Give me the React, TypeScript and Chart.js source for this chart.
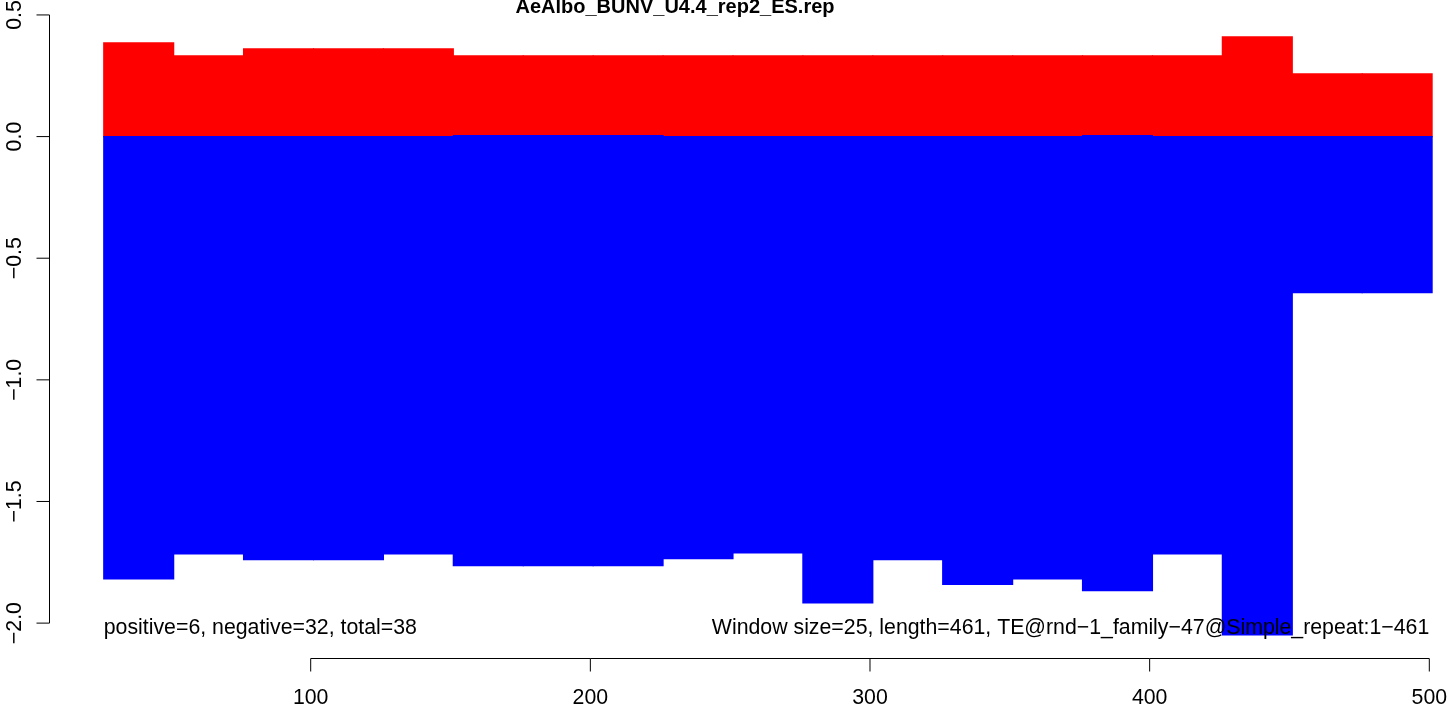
import React, { useEffect, useRef } from "react";
import { Chart, registerables } from "chart.js";

Chart.register(...registerables);

const chartTitle = "AeAlbo_BUNV_U4.4_rep2_ES.rep";
const windowSize = 25;
const windowStarts = [26, 51, 76, 101, 126, 151, 176, 201, 226, 251, 276, 301, 326, 351, 376, 401, 426, 451, 476];
const positiveValues = [0.385, 0.332, 0.361, 0.361, 0.361, 0.332, 0.332, 0.332, 0.332, 0.332, 0.332, 0.332, 0.332, 0.332, 0.332, 0.332, 0.41, 0.258, 0.258];
const negativeTops = [0, 0, 0, 0, 0, 0.004, 0.004, 0.004, 0, 0, 0, 0, 0, 0, 0.004, 0, 0, 0, 0];
const negativeValues = [-1.818, -1.715, -1.739, -1.739, -1.715, -1.764, -1.764, -1.764, -1.735, -1.711, -1.917, -1.739, -1.841, -1.818, -1.867, -1.715, -2.048, -0.642, -0.642];
const xTickValues = [100, 200, 300, 400, 500];
const xTickLabels = ["100", "200", "300", "400", "500"];
const yTickValues = [0.5, 0, -0.5, -1, -1.5, -2];
const yTickLabels = ["0.5", "0.0", "\u22120.5", "\u22121.0", "\u22121.5", "\u22122.0"];
const leftNote = "positive=6, negative=32, total=38";
const rightNote = "Window size=25, length=461, TE@rnd\u22121_family\u221247@Simple_repeat:1\u2212461";

const FONT = '"Liberation Sans", Arial, Helvetica, sans-serif';
const TEXT_FONT = `21.3px ${FONT}`;

const axesPlugin = {
  id: "rAxes",
  afterDraw(chart: any) {
    const ctx = chart.ctx as CanvasRenderingContext2D;
    const xs = chart.scales.x;
    const ys = chart.scales.y;
    const area = chart.chartArea;
    ctx.save();
    ctx.strokeStyle = "#000";
    ctx.fillStyle = "#000";
    ctx.lineWidth = 1;

    // Title
    ctx.font = `bold 20px ${FONT}`;
    ctx.textAlign = "center";
    ctx.textBaseline = "alphabetic";
    ctx.fillText(chartTitle, 675, 13);

    // Y axis
    const ax = Math.round(area.left) - 0.5;
    const yTop = ys.getPixelForValue(yTickValues[0]);
    const yBot = ys.getPixelForValue(yTickValues[yTickValues.length - 1]);
    ctx.beginPath();
    ctx.moveTo(ax, yTop);
    ctx.lineTo(ax, yBot);
    yTickValues.forEach((v) => {
      const py = ys.getPixelForValue(v);
      ctx.moveTo(ax, py);
      ctx.lineTo(ax - 13, py);
    });
    ctx.stroke();
    ctx.font = TEXT_FONT;
    yTickValues.forEach((v, i) => {
      const py = ys.getPixelForValue(v);
      ctx.save();
      ctx.translate(21, py);
      ctx.rotate(-Math.PI / 2);
      ctx.textAlign = "center";
      ctx.textBaseline = "alphabetic";
      ctx.fillText(yTickLabels[i], 0, 0);
      ctx.restore();
    });

    // X axis
    const ay = Math.round(area.bottom) + 0.5;
    const xLeft = xs.getPixelForValue(xTickValues[0]);
    const xRight = xs.getPixelForValue(xTickValues[xTickValues.length - 1]);
    ctx.beginPath();
    ctx.moveTo(xLeft, ay);
    ctx.lineTo(xRight, ay);
    xTickValues.forEach((v) => {
      const px = xs.getPixelForValue(v);
      ctx.moveTo(px, ay);
      ctx.lineTo(px, ay + 13);
    });
    ctx.stroke();
    ctx.textAlign = "center";
    ctx.textBaseline = "alphabetic";
    xTickValues.forEach((v, i) => {
      ctx.fillText(xTickLabels[i], xs.getPixelForValue(v), 704);
    });

    // Notes
    ctx.textAlign = "left";
    ctx.fillText(leftNote, xs.getPixelForValue(windowStarts[0]), 634);
    ctx.textAlign = "right";
    ctx.fillText(rightNote, xs.getPixelForValue(500), 634);
    ctx.restore();
  },
};

export default function App() {
  const canvasRef = useRef<HTMLCanvasElement | null>(null);

  useEffect(() => {
    const canvas = canvasRef.current;
    if (!canvas) return;
    const centers = windowStarts.map((s) => s + windowSize / 2);
    const chart = new Chart(canvas, {
      type: "bar",
      data: {
        datasets: [
          {
            label: "negative",
            data: centers.map((c, i) => ({ x: c, y: [negativeTops[i], negativeValues[i]] })) as any,
            backgroundColor: "#0000ff",
            borderWidth: 0,
            inflateAmount: 0.6,
            barPercentage: 1,
            categoryPercentage: 1,
            grouped: false,
            order: 1,
          } as any,
          {
            label: "positive",
            data: centers.map((c, i) => ({ x: c, y: [0, positiveValues[i]] })) as any,
            backgroundColor: "#ff0000",
            borderWidth: 0,
            inflateAmount: 0.6,
            barPercentage: 1,
            categoryPercentage: 1,
            grouped: false,
            order: 2,
          } as any,
        ],
      },
      options: {
        responsive: false,
        animation: false,
        devicePixelRatio: 1,
        layout: { padding: { left: 50, right: 0, top: 13, bottom: 51 } },
        plugins: { legend: { display: false }, tooltip: { enabled: false }, title: { display: false } },
        scales: {
          x: { type: "linear", display: false, offset: false, min: 6.78, max: 507.4 },
          y: { type: "linear", display: false, min: -2.1434, max: 0.508 },
        },
      },
      plugins: [axesPlugin],
    });
    return () => chart.destroy();
  }, []);

  return (
    <div style={{ position: "fixed", left: 0, top: 0, width: 1450, height: 709, background: "#fff" }}>
      <canvas ref={canvasRef} width={1450} height={709} style={{ display: "block" }} />
    </div>
  );
}
